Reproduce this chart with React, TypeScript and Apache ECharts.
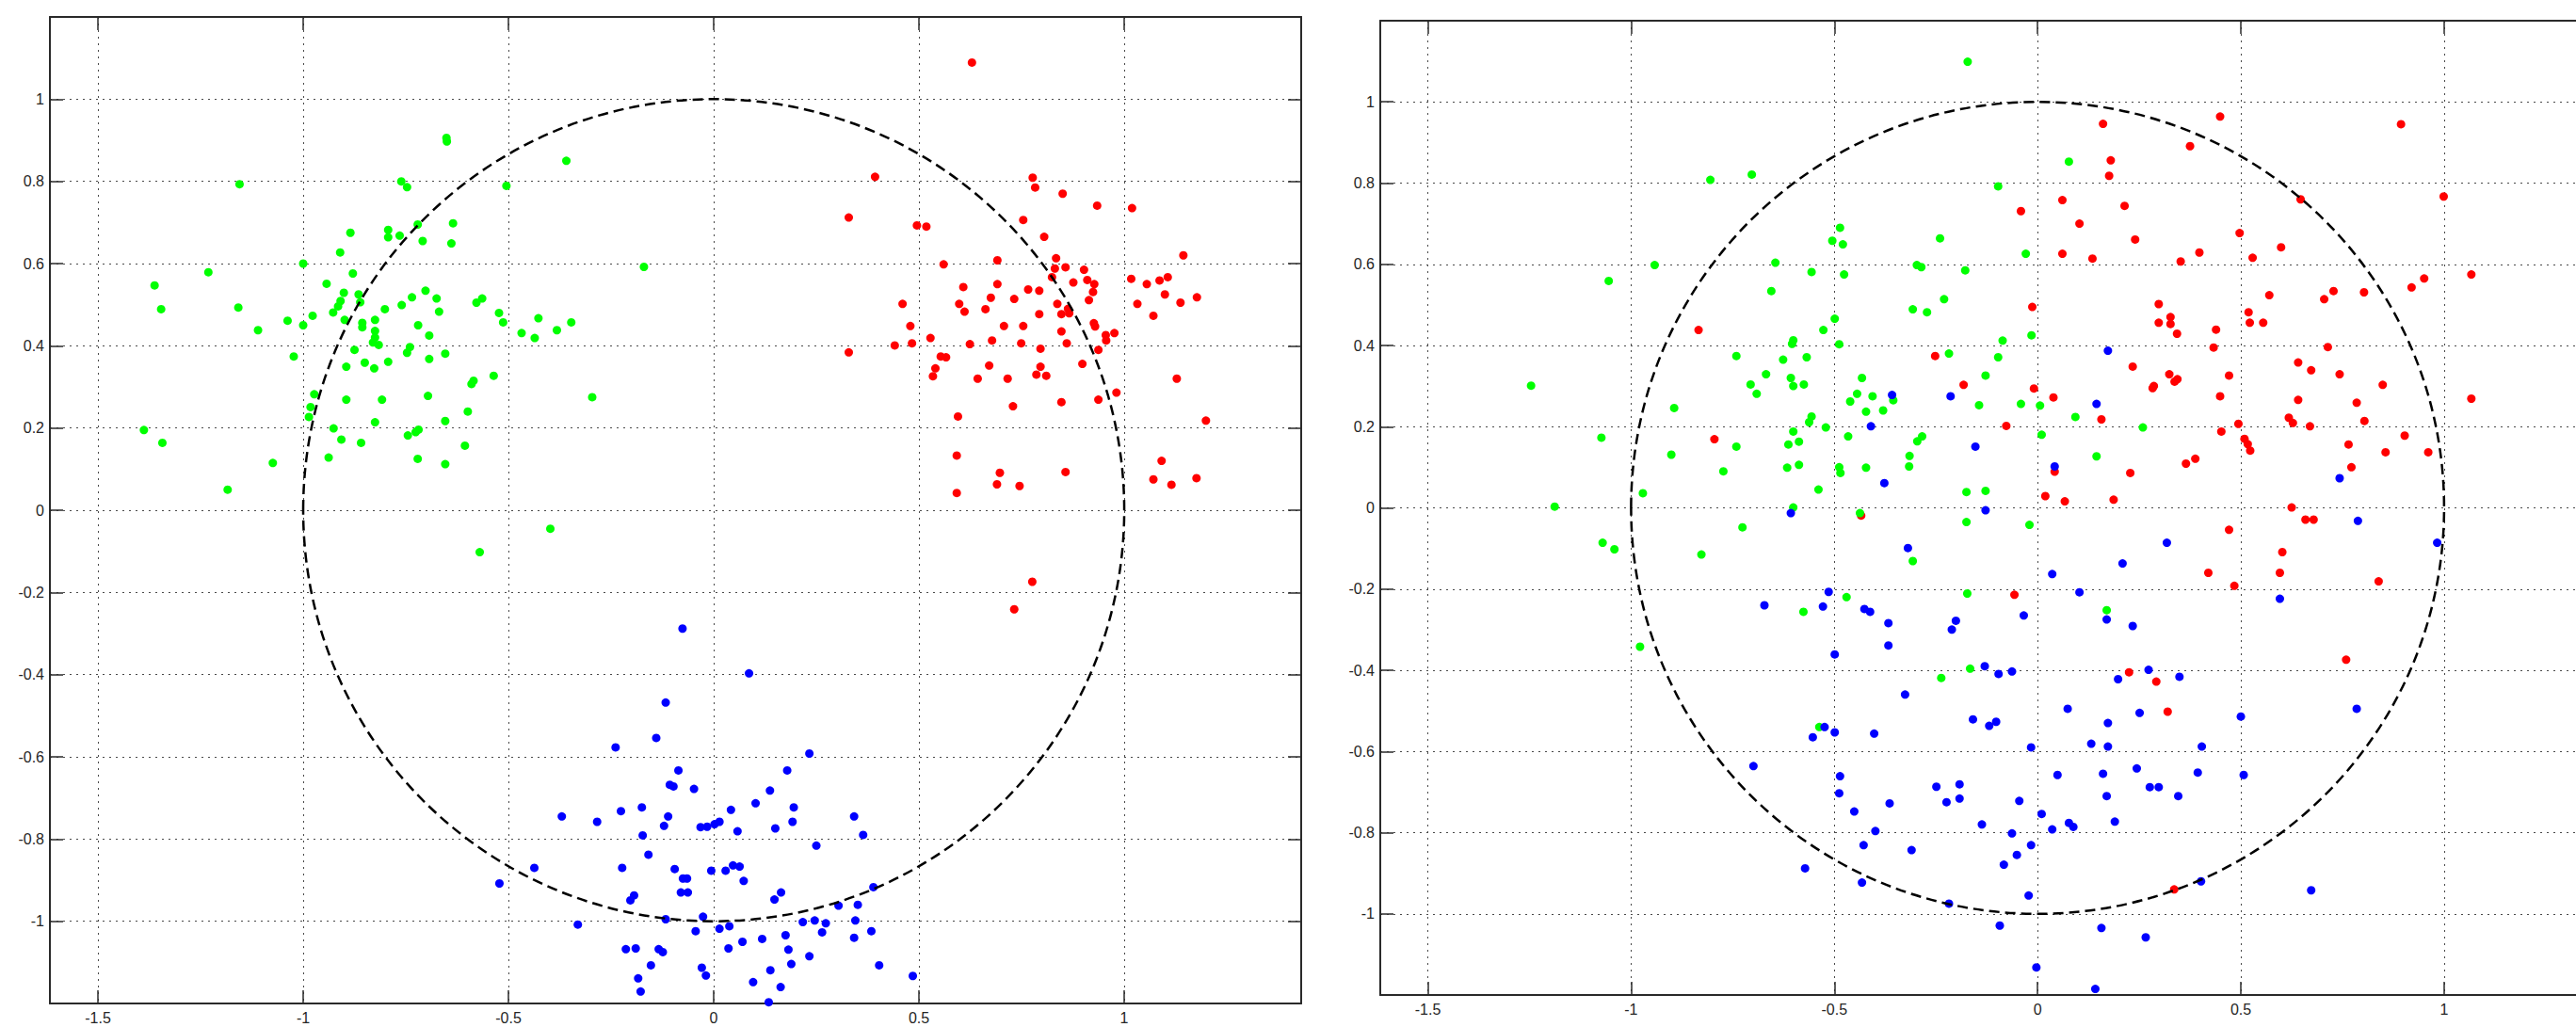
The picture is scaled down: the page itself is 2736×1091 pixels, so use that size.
import React, { useEffect, useRef } from "react";
import * as echarts from "echarts";

// ---------- axis definitions ----------
const X_TICKS = [-1.5, -1, -0.5, 0, 0.5, 1];
const Y_TICKS = [-1, -0.8, -0.6, -0.4, -0.2, 0, 0.2, 0.4, 0.6, 0.8, 1];
const X_RANGE = [-1.617, 1.431];
const Y_RANGE = [-1.2, 1.2];

// reference circle (centre x, centre y, radius)
const UNIT_CIRCLE = [[0, 0, 1]];

// ---------- left panel ----------
const leftRed = [
  [0.629, 1.089], [0.393, 0.811], [0.329, 0.712], [0.495, 0.693], [0.518, 0.69], [0.56, 0.598],
  [0.777, 0.809], [0.783, 0.785], [0.85, 0.77], [0.934, 0.741], [1.019, 0.735], [0.754, 0.706],
  [0.805, 0.665], [0.691, 0.608], [0.834, 0.613], [0.831, 0.588], [0.857, 0.591], [0.902, 0.585],
  [0.824, 0.567], [1.144, 0.62], [1.017, 0.563], [1.055, 0.55], [1.086, 0.559], [1.106, 0.567],
  [1.099, 0.525], [1.137, 0.505], [1.177, 0.518], [1.032, 0.502], [1.071, 0.473], [0.876, 0.554],
  [0.91, 0.56], [0.927, 0.55], [0.924, 0.531], [0.914, 0.511], [0.608, 0.543], [0.691, 0.55],
  [0.675, 0.517], [0.598, 0.502], [0.611, 0.483], [0.662, 0.489], [0.732, 0.514], [0.766, 0.537],
  [0.793, 0.534], [0.837, 0.502], [0.793, 0.477], [0.847, 0.477], [0.863, 0.49], [0.866, 0.479],
  [0.46, 0.502], [0.479, 0.448], [0.441, 0.401], [0.483, 0.406], [0.329, 0.384], [0.528, 0.419],
  [0.707, 0.448], [0.754, 0.448], [0.678, 0.413], [0.624, 0.404], [0.749, 0.406], [0.847, 0.435],
  [0.86, 0.406], [0.796, 0.393], [0.926, 0.455], [0.929, 0.447], [0.955, 0.426], [0.976, 0.431],
  [0.956, 0.413], [0.937, 0.39], [0.553, 0.374], [0.566, 0.372], [0.54, 0.345], [0.534, 0.326],
  [0.671, 0.352], [0.643, 0.32], [0.716, 0.32], [0.796, 0.349], [0.786, 0.33], [0.81, 0.327],
  [0.898, 0.356], [1.128, 0.32], [0.981, 0.286], [0.937, 0.269], [0.847, 0.263], [0.729, 0.253],
  [0.595, 0.228], [1.199, 0.218], [0.592, 0.133], [0.697, 0.091], [0.69, 0.063], [0.745, 0.059],
  [0.592, 0.042], [0.857, 0.093], [1.091, 0.12], [1.071, 0.075], [1.115, 0.062], [1.176, 0.078],
  [0.776, -0.174], [0.732, -0.241],
];

const leftGreen = [
  [-0.651, 0.906], [-0.65, 0.897], [-0.359, 0.85], [-1.155, 0.793], [-0.761, 0.8], [-0.747, 0.786],
  [-0.505, 0.789], [-0.635, 0.698], [-0.885, 0.675], [-0.793, 0.682], [-0.793, 0.664], [-0.765, 0.668],
  [-0.721, 0.695], [-0.709, 0.655], [-0.639, 0.649], [-0.91, 0.627], [-1.0, 0.6], [-0.879, 0.576],
  [-1.231, 0.579], [-1.362, 0.547], [-1.346, 0.489], [-1.158, 0.493], [-0.943, 0.551], [-0.901, 0.529],
  [-0.865, 0.525], [-0.909, 0.509], [-0.915, 0.496], [-0.927, 0.481], [-0.861, 0.506], [-0.977, 0.473],
  [-1.038, 0.461], [-1.0, 0.45], [-1.11, 0.438], [-0.899, 0.463], [-0.856, 0.456], [-0.856, 0.445],
  [-0.825, 0.463], [-0.801, 0.489], [-0.76, 0.499], [-0.735, 0.518], [-0.702, 0.534], [-0.675, 0.515],
  [-0.669, 0.483], [-0.72, 0.45], [-0.693, 0.425], [-0.825, 0.436], [-0.825, 0.42], [-0.83, 0.408],
  [-0.816, 0.402], [-0.875, 0.39], [-1.023, 0.374], [-0.895, 0.349], [-0.85, 0.359], [-0.827, 0.345],
  [-0.793, 0.361], [-0.747, 0.383], [-0.74, 0.397], [-0.693, 0.368], [-0.654, 0.381], [-0.578, 0.505],
  [-0.564, 0.515], [-0.523, 0.48], [-0.513, 0.457], [-0.468, 0.431], [-0.436, 0.419], [-0.427, 0.467],
  [-0.382, 0.438], [-0.347, 0.457], [-0.17, 0.592], [-0.59, 0.307], [-0.585, 0.315], [-0.536, 0.327],
  [-0.296, 0.275], [-0.973, 0.282], [-0.982, 0.251], [-0.986, 0.227], [-0.895, 0.269], [-0.808, 0.269],
  [-0.696, 0.278], [-0.599, 0.24], [-0.825, 0.214], [-0.654, 0.217], [-0.926, 0.199], [-0.907, 0.172],
  [-0.859, 0.164], [-0.745, 0.182], [-0.726, 0.19], [-0.719, 0.196], [-0.606, 0.157], [-0.938, 0.128],
  [-0.721, 0.125], [-0.654, 0.112], [-1.388, 0.195], [-1.343, 0.164], [-1.074, 0.115], [-1.184, 0.05],
  [-0.398, -0.045], [-0.57, -0.102],
];

const leftBlue = [
  [-0.076, -0.288], [0.086, -0.397], [-0.117, -0.468], [-0.14, -0.554], [-0.239, -0.577], [0.233, -0.592],
  [-0.086, -0.633], [0.179, -0.633], [-0.107, -0.668], [-0.098, -0.672], [-0.048, -0.678], [0.137, -0.682],
  [0.102, -0.713], [0.195, -0.723], [-0.175, -0.723], [-0.226, -0.732], [-0.37, -0.745], [-0.284, -0.758],
  [-0.111, -0.745], [-0.121, -0.768], [0.042, -0.729], [-0.032, -0.771], [-0.016, -0.77], [0.002, -0.764],
  [0.014, -0.758], [0.058, -0.781], [0.15, -0.774], [0.192, -0.758], [0.342, -0.745], [0.364, -0.79],
  [-0.173, -0.791], [0.25, -0.816], [-0.159, -0.838], [-0.437, -0.87], [-0.522, -0.908], [-0.223, -0.87],
  [-0.095, -0.873], [-0.075, -0.896], [-0.065, -0.896], [-0.08, -0.93], [-0.063, -0.93], [-0.006, -0.877],
  [0.029, -0.877], [0.047, -0.864], [0.063, -0.867], [0.073, -0.902], [-0.194, -0.937], [-0.203, -0.949],
  [0.164, -0.93], [0.148, -0.947], [0.389, -0.917], [0.304, -0.962], [0.351, -0.96], [-0.331, -1.008],
  [-0.117, -0.995], [-0.026, -0.989], [-0.044, -1.024], [0.014, -1.018], [0.038, -1.012], [0.217, -1.002],
  [0.246, -0.998], [0.273, -1.005], [0.264, -1.027], [0.345, -0.998], [0.342, -1.04], [0.384, -1.024],
  [0.175, -1.034], [0.118, -1.043], [0.07, -1.05], [-0.214, -1.068], [-0.19, -1.066], [-0.134, -1.068],
  [-0.124, -1.075], [0.036, -1.066], [0.182, -1.069], [0.233, -1.085], [0.189, -1.104], [-0.153, -1.107],
  [-0.029, -1.113], [-0.019, -1.132], [0.138, -1.119], [0.403, -1.107], [0.485, -1.133], [-0.184, -1.139],
  [-0.178, -1.171], [0.096, -1.148], [0.163, -1.16], [0.134, -1.197],
];

// ---------- right panel ----------
const rightRed = [
  [-0.041, 0.731], [-0.013, 0.495], [-0.834, 0.438], [-0.252, 0.374], [-0.182, 0.303], [-0.009, 0.294],
  [-0.795, 0.169], [-0.077, 0.202],
  [0.161, 0.946], [0.449, 0.964], [0.894, 0.945], [0.375, 0.891], [0.18, 0.856], [0.176, 0.818],
  [0.061, 0.758], [0.214, 0.744], [0.647, 0.76], [0.999, 0.767], [0.103, 0.7], [0.497, 0.677],
  [0.24, 0.661], [0.599, 0.642], [0.061, 0.626], [0.135, 0.614], [0.398, 0.629], [0.352, 0.607],
  [0.529, 0.616], [1.067, 0.575], [0.951, 0.565], [0.92, 0.543], [0.728, 0.534], [0.705, 0.514],
  [0.803, 0.531], [0.57, 0.524], [0.298, 0.502], [0.327, 0.47], [0.298, 0.456], [0.327, 0.453],
  [0.343, 0.429], [0.439, 0.439], [0.519, 0.482], [0.522, 0.456], [0.555, 0.456], [0.433, 0.395],
  [0.714, 0.396], [0.641, 0.358], [0.673, 0.339], [0.743, 0.329], [0.849, 0.303], [0.234, 0.348],
  [0.324, 0.329], [0.337, 0.311], [0.344, 0.317], [0.286, 0.3], [0.283, 0.295], [0.471, 0.326],
  [0.039, 0.272], [0.449, 0.275], [1.067, 0.269], [0.641, 0.266], [0.785, 0.259], [0.157, 0.218],
  [0.494, 0.207], [0.618, 0.222], [0.628, 0.209], [0.67, 0.201], [0.804, 0.214], [0.452, 0.188],
  [0.509, 0.17], [0.517, 0.157], [0.523, 0.141], [0.903, 0.178], [0.765, 0.156], [0.856, 0.137],
  [0.961, 0.137], [0.388, 0.121], [0.365, 0.109], [0.228, 0.086], [0.042, 0.089], [0.772, 0.1],
  [0.019, 0.029], [0.067, 0.016], [0.187, 0.02], [0.625, 0.001],
  [-0.434, -0.019], [-0.057, -0.214],
  [0.659, -0.029], [0.679, -0.029], [0.471, -0.054], [0.602, -0.109], [0.42, -0.16], [0.596, -0.16],
  [0.484, -0.192], [0.839, -0.181], [0.759, -0.374], [0.225, -0.405], [0.292, -0.428], [0.32, -0.502],
  [0.336, -0.94],
];

const rightGreen = [
  [-0.172, 1.099], [-0.805, 0.808], [-0.703, 0.821], [-0.097, 0.792], [-0.486, 0.69], [-0.505, 0.658],
  [-0.479, 0.649], [-0.24, 0.664], [-0.029, 0.626], [-0.942, 0.598], [-1.055, 0.559], [-0.645, 0.604],
  [-0.556, 0.581], [-0.476, 0.575], [-0.297, 0.598], [-0.286, 0.593], [-0.178, 0.585], [-0.655, 0.534],
  [-0.23, 0.514], [-0.307, 0.489], [-0.272, 0.482], [-0.499, 0.466], [-0.527, 0.438], [-0.601, 0.413],
  [-0.604, 0.404], [-0.488, 0.403], [-0.015, 0.425], [-0.086, 0.412], [-0.741, 0.374], [-0.626, 0.365],
  [-0.568, 0.371], [-0.218, 0.38], [-0.097, 0.371], [-1.246, 0.301], [-0.668, 0.329], [-0.706, 0.304],
  [-0.691, 0.281], [-0.607, 0.32], [-0.601, 0.3], [-0.575, 0.304], [-0.432, 0.32], [-0.444, 0.281],
  [-0.406, 0.275], [-0.461, 0.262], [-0.355, 0.265], [-0.128, 0.326], [-0.144, 0.253], [-0.041, 0.256],
  [0.006, 0.252], [-0.894, 0.246], [-0.422, 0.237], [-0.38, 0.24], [-0.556, 0.225], [-0.562, 0.211],
  [-0.521, 0.198], [-1.073, 0.173], [-0.601, 0.188], [-0.466, 0.176], [-0.284, 0.176], [-0.296, 0.164],
  [-0.741, 0.151], [-0.613, 0.156], [-0.587, 0.163], [-0.901, 0.131], [-0.315, 0.128], [-0.316, 0.102],
  [-0.773, 0.09], [-0.616, 0.099], [-0.587, 0.106], [-0.488, 0.1], [-0.485, 0.086], [-0.422, 0.099],
  [-0.971, 0.036], [-0.539, 0.045], [-0.175, 0.039], [-0.128, 0.042], [0.01, 0.18], [-1.188, 0.003],
  [-0.601, 0.001],
  [0.077, 0.853], [0.093, 0.224], [0.259, 0.198], [0.145, 0.127],
  [-0.437, -0.013], [-0.175, -0.035], [-0.02, -0.042], [-0.726, -0.048], [-1.07, -0.086], [-1.041, -0.102],
  [-0.827, -0.115], [-0.307, -0.131], [-0.47, -0.22], [-0.576, -0.256], [-0.173, -0.211], [-0.978, -0.342],
  [-0.166, -0.396], [-0.237, -0.419], [-0.537, -0.54],
  [0.17, -0.252],
];

const rightBlue = [
  [-0.358, 0.278], [-0.214, 0.275], [-0.41, 0.201], [-0.153, 0.151], [-0.377, 0.061],
  [0.173, 0.387], [0.145, 0.256], [0.042, 0.102], [0.743, 0.073],
  [-0.607, -0.013], [-0.128, -0.006], [-0.319, -0.099], [-0.514, -0.207], [-0.672, -0.24], [-0.528, -0.243],
  [-0.426, -0.249], [-0.412, -0.256], [-0.367, -0.284], [-0.201, -0.278], [-0.211, -0.3], [-0.034, -0.265],
  [-0.367, -0.339], [-0.499, -0.361], [-0.13, -0.39], [-0.096, -0.409], [-0.063, -0.403], [-0.326, -0.46],
  [-0.159, -0.521], [-0.119, -0.537], [-0.102, -0.527], [-0.524, -0.54], [-0.553, -0.565], [-0.499, -0.553],
  [-0.402, -0.556], [-0.016, -0.59], [-0.699, -0.636], [-0.486, -0.661], [-0.488, -0.703], [-0.451, -0.748],
  [-0.364, -0.728], [-0.249, -0.687], [-0.192, -0.681], [-0.224, -0.725], [-0.192, -0.716], [-0.045, -0.722],
  [-0.137, -0.78], [-0.399, -0.796], [-0.063, -0.802], [-0.428, -0.831], [-0.31, -0.843], [-0.016, -0.831],
  [-0.051, -0.855], [-0.083, -0.879], [-0.572, -0.888], [-0.432, -0.923], [-0.022, -0.955], [-0.218, -0.975],
  [-0.093, -1.029], [-0.003, -1.132],
  [0.788, -0.032], [0.983, -0.086], [0.318, -0.086], [0.209, -0.137], [0.036, -0.163], [0.103, -0.208],
  [0.596, -0.224], [0.17, -0.275], [0.234, -0.291], [0.273, -0.399], [0.198, -0.422], [0.349, -0.416],
  [0.074, -0.495], [0.251, -0.505], [0.173, -0.53], [0.5, -0.514], [0.785, -0.495], [0.132, -0.581],
  [0.173, -0.588], [0.404, -0.588], [0.049, -0.658], [0.161, -0.655], [0.244, -0.642], [0.394, -0.652],
  [0.507, -0.658], [0.276, -0.688], [0.298, -0.688], [0.346, -0.71], [0.17, -0.71], [0.01, -0.754],
  [0.077, -0.776], [0.088, -0.786], [0.036, -0.792], [0.19, -0.773], [0.402, -0.92], [0.673, -0.942],
  [0.157, -1.035], [0.266, -1.058], [0.142, -1.185],
];

// ---------- styling ----------
const FRAME = "#2a2a2a";
const GRID_DOT = "#4a4a4a";
const FONT = "'Liberation Sans', Arial, Helvetica, sans-serif";
const RED = "#ff0000";
const GREEN = "#00ff00";
const BLUE = "#0000ff";

function buildAxes(gridIndex: number) {
  const common = {
    type: "value" as const,
    gridIndex,
    scale: true,
    axisLine: { show: true, onZero: false, lineStyle: { color: FRAME, width: 2 } },
  };
  const label = (vals: number[], margin: number) => ({
    show: true,
    customValues: vals,
    margin,
    color: "#262626",
    fontSize: 16,
    fontFamily: FONT,
    formatter: (v: number) => String(v),
    showMinLabel: true,
    showMaxLabel: true,
    hideOverlap: false,
  });
  const tick = (vals: number[]) => ({
    show: true,
    inside: true,
    length: 14,
    customValues: vals,
    lineStyle: { color: FRAME, width: 1.5 },
  });
  const split = {
    show: true,
    lineStyle: { color: GRID_DOT, width: 1, type: [2, 5] },
  };
  const xAxes = [
    {
      ...common,
      position: "bottom",
      min: X_RANGE[0],
      max: X_RANGE[1],
      axisTick: tick(X_TICKS),
      axisLabel: label(X_TICKS, 7),
      splitLine: split,
    },
    {
      ...common,
      position: "top",
      min: X_RANGE[0],
      max: X_RANGE[1],
      axisTick: tick(X_TICKS),
      axisLabel: { show: false },
      splitLine: { show: false },
    },
  ];
  const yAxes = [
    {
      ...common,
      position: "left",
      min: Y_RANGE[0],
      max: Y_RANGE[1],
      axisTick: tick(Y_TICKS),
      axisLabel: label(Y_TICKS, 6),
      splitLine: split,
    },
    {
      ...common,
      position: "right",
      min: Y_RANGE[0],
      max: Y_RANGE[1],
      axisTick: tick(Y_TICKS),
      axisLabel: { show: false },
      splitLine: { show: false },
    },
  ];
  return { xAxes, yAxes };
}

function scatter(data: number[][], color: string, axisIdx: number) {
  return {
    type: "scatter",
    xAxisIndex: axisIdx,
    yAxisIndex: axisIdx,
    data,
    symbol: "circle",
    symbolSize: 9,
    itemStyle: { color, opacity: 1, borderWidth: 0 },
    emphasis: { disabled: true },
    z: 2,
  };
}

function circleSeries(axisIdx: number) {
  return {
    type: "custom",
    xAxisIndex: axisIdx,
    yAxisIndex: axisIdx,
    data: UNIT_CIRCLE,
    clip: false,
    silent: true,
    z: 5,
    renderItem: (_params: any, api: any) => {
      const cx = api.value(0);
      const cy = api.value(1);
      const r = api.value(2);
      const c = api.coord([cx, cy]);
      const s = api.size([r, r]);
      return {
        type: "ellipse",
        shape: { cx: c[0], cy: c[1], rx: s[0], ry: s[1] },
        style: { fill: "none", stroke: "#000", lineWidth: 2.5, lineDash: [11, 6] },
      };
    },
  };
}

export default function App() {
  const ref = useRef<HTMLDivElement>(null);

  useEffect(() => {
    document.body.style.margin = "0";
    if (!ref.current) return;
    const chart = echarts.init(ref.current, undefined, { renderer: "svg" });

    const a0 = buildAxes(0);
    const a1 = buildAxes(1);

    const option: any = {
      animation: false,
      backgroundColor: "#ffffff",
      grid: [
        { left: 53, top: 18, width: 1329, height: 1048, containLabel: false, outerBoundsMode: "none" },
        { left: 1466, top: 22, width: 1316, height: 1035, containLabel: false, outerBoundsMode: "none" },
      ],
      // axis indices: x: 0 bottom L, 1 bottom R, 2 top L, 3 top R
      xAxis: [a0.xAxes[0], a1.xAxes[0], a0.xAxes[1], a1.xAxes[1]],
      yAxis: [a0.yAxes[0], a1.yAxes[0], a0.yAxes[1], a1.yAxes[1]],
      series: [
        scatter(leftRed, RED, 0),
        scatter(leftGreen, GREEN, 0),
        scatter(leftBlue, BLUE, 0),
        circleSeries(0),
        scatter(rightRed, RED, 1),
        scatter(rightGreen, GREEN, 1),
        scatter(rightBlue, BLUE, 1),
        circleSeries(1),
      ],
    };
    chart.setOption(option);
    return () => {
      chart.dispose();
    };
  }, []);

  return (
    <div
      ref={ref}
      style={{ width: 2736, height: 1091, overflow: "hidden", background: "#fff" }}
    />
  );
}
